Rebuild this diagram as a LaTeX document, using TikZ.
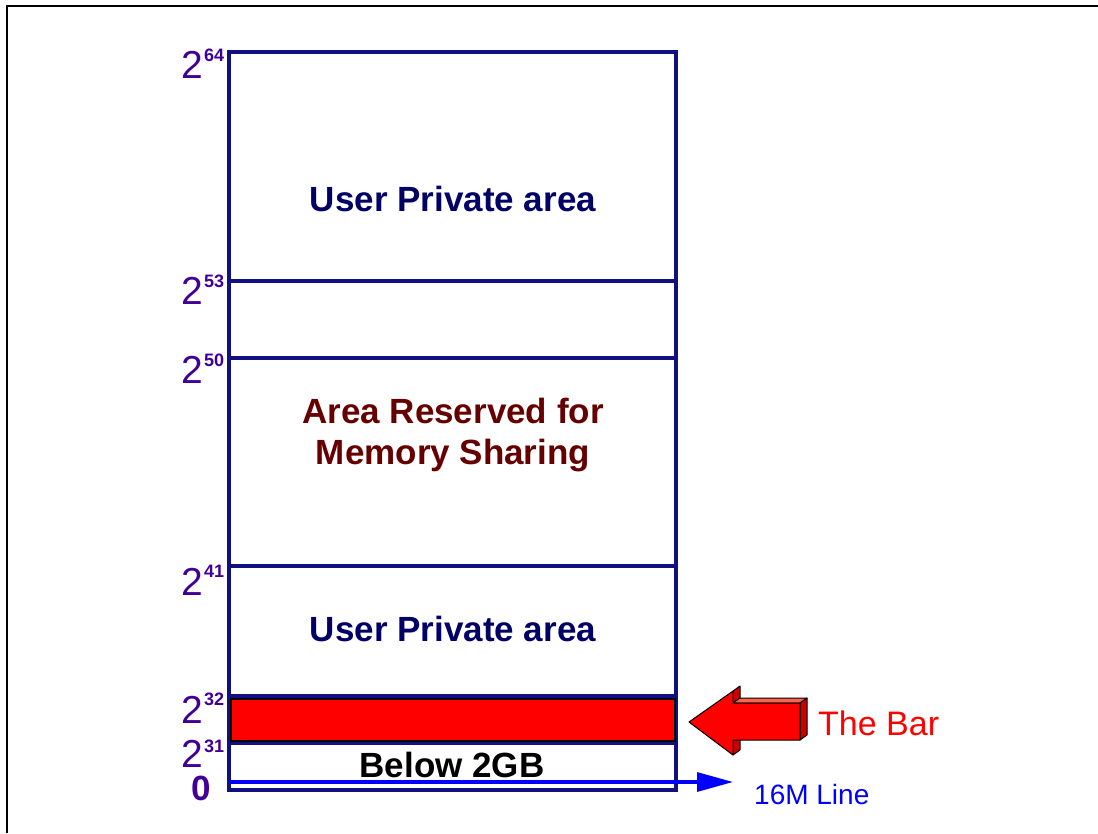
\documentclass[tikz,border=0pt]{standalone}
\usepackage{fontspec}
\setmainfont{Liberation Sans}
\usetikzlibrary{arrows.meta}
\definecolor{boxnavy}{RGB}{16,16,128}
\definecolor{labpurple}{RGB}{64,0,152}
\definecolor{textnavy}{RGB}{0,0,102}
\definecolor{maroon}{RGB}{102,0,0}
\definecolor{lineblue}{RGB}{0,0,255}
\definecolor{barred}{RGB}{255,0,0}
\definecolor{darkred}{RGB}{200,0,0}
\definecolor{salmon}{RGB}{255,100,80}
\begin{document}
\begin{tikzpicture}[x=1pt,y=-1pt,
  frame/.style={draw=black,line width=2pt},
  region/.style={draw=boxnavy,line width=3.4pt},
  areatext/.style={font=\fontsize{35}{41}\selectfont\bfseries,inner sep=0pt,anchor=base},
  basetwo/.style={font=\fontsize{39}{39}\selectfont,text=labpurple,inner sep=0pt,anchor=base east},
  expo/.style={font=\fontsize{18}{18}\selectfont\bfseries,text=labpurple,inner sep=0pt,anchor=base west},
  facet/.style={draw=black,line width=1pt,line join=round},
]
\useasboundingbox (0,0) rectangle (1098,833);

% page frame (top and left edges)
\draw[frame] (1098,6) -- (7,6) -- (7,833);

% address space column
\coordinate (TL) at (229,52);
\coordinate (BR) at (676,790);
\draw[region] (TL) rectangle (BR);
\foreach \n/\y in {53/281,50/358,41/566,32/696,31/743}{
  \coordinate (L\n) at (229,\y);
  \coordinate (R\n) at (676,\y);
  \draw[region] (L\n) -- (R\n);
}

% the bar between 2^31 and 2^32
\draw[draw=black,line width=1.5pt,fill=barred] (231,699) rectangle (675,741);

% 16M line
\coordinate (M16) at (229,782);
\coordinate (M16tip) at (733,782);
\draw[draw=lineblue,line width=3.2pt,-{Triangle[length=36pt,width=19pt]}] (M16) -- (M16tip);
\node[font=\fontsize{28}{28}\selectfont,text=lineblue,inner sep=0pt,anchor=base west] (lbl16) at (754,804) {16M Line};

% block arrow pointing at the bar
\filldraw[facet,fill=darkred] (733,691) -- (740,686) -- (740,698) -- (733,703) -- cycle;
\filldraw[facet,fill=salmon] (733,703) -- (740,698) -- (807,698) -- (800,703) -- cycle;
\filldraw[facet,fill=darkred] (800,703) -- (807,698) -- (807,735) -- (800,740) -- cycle;
\filldraw[facet,fill=darkred] (733,740) -- (740,735) -- (740,750) -- (733,755) -- cycle;
\filldraw[facet,fill=barred] (689,722) -- (733,691) -- (733,703) -- (800,703)
  -- (800,740) -- (733,740) -- (733,755) -- cycle;
\node[font=\fontsize{34}{34}\selectfont,text=barred,inner sep=0pt,anchor=base west] (lblbar) at (818,735) {The Bar};

% region texts
\node[areatext,text=textnavy] (upper) at (453,211) {User Private area};
\node[areatext,text=maroon] (shareA) at (453,423) {Area Reserved for};
\node[areatext,text=maroon] (shareB) at (453,464) {Memory Sharing};
\node[areatext,text=textnavy] (lower) at (453,641) {User Private area};
\node[areatext,text=black] (below) at (452,777) {Below 2GB};

% boundary labels
\foreach \e/\by/\sy in {64/78/61,53/304/287,50/383/366,41/595/577,32/723/705,31/767/752}{
  \node[basetwo] (b\e) at (203,\by) {2};
  \node[expo] (e\e) at (204,\sy) {\e};
}
\node[font=\fontsize{35}{35}\selectfont\bfseries,text=labpurple,inner sep=0pt,anchor=base] (zero) at (201,800) {0};
\end{tikzpicture}
\end{document}
